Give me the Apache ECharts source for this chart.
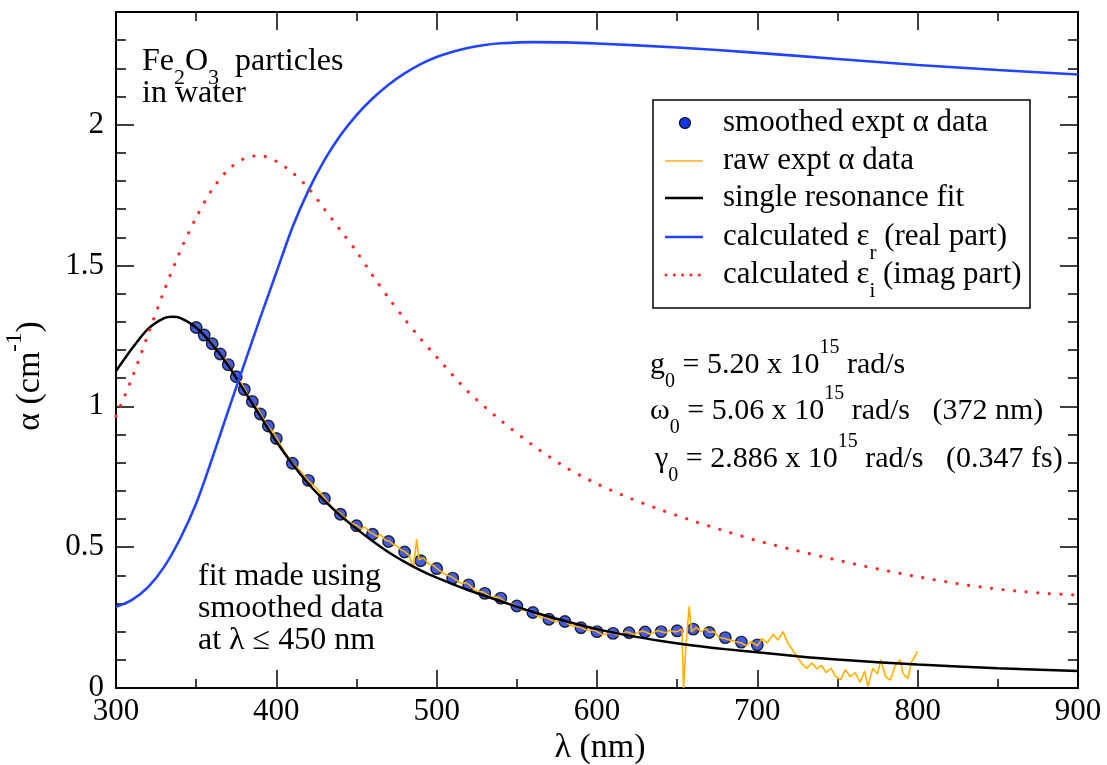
<!DOCTYPE html>
<html>
<head>
<meta charset="utf-8">
<script src="https://cdn.jsdelivr.net/npm/echarts@6/dist/echarts.min.js"></script>
<style>
  html, body { margin: 0; padding: 0; background: #fff; }
  #chart { width: 1107px; height: 765px; }
</style>
</head>
<body>
<div id="chart"></div>
<script>
// smoothed experimental absorption (dots)
const smoothLambda = [350, 355, 360, 365, 370, 375, 380, 385, 390, 395, 400, 410, 420, 430, 440, 450, 460, 470, 480, 490,
  500, 510, 520, 530, 540, 550, 560, 570, 580, 590, 600, 610, 620, 630, 640, 650, 660, 670, 680, 690, 700]
const smoothAlpha = [1.28, 1.253, 1.222, 1.186, 1.148, 1.105, 1.06, 1.017, 0.973, 0.93, 0.886, 0.798, 0.737, 0.673, 0.617, 0.576, 0.546, 0.52, 0.483, 0.452,
  0.424, 0.39, 0.366, 0.336, 0.319, 0.291, 0.268, 0.244, 0.236, 0.214, 0.2, 0.194, 0.196, 0.199, 0.2, 0.203, 0.209, 0.197, 0.179, 0.163, 0.153]

// raw experimental absorption (orange trace)
const rawLambda = [350, 353, 355, 358, 360, 363, 365, 368, 370, 373, 375, 378, 380, 383, 385, 388, 390, 393, 395, 398, 400, 405, 410, 415, 420, 425, 430, 435, 440, 445,
  450, 453, 455, 458, 460, 463, 465, 468, 470, 473, 475, 478, 480, 483, 485.5, 487.5, 489, 492, 495, 498, 500, 503, 505, 508, 510, 513, 515, 518, 520, 523,
  525, 528, 530, 533, 535, 538, 540, 543, 545, 548, 550, 553, 555, 558, 560, 563, 565, 568, 570, 573, 575, 578, 580, 583, 585, 588, 590, 593, 595, 598,
  600, 603, 605, 608, 610, 613, 615, 618, 620, 623, 625, 628, 630, 633, 635, 638, 640, 643, 645, 648, 650, 653, 654, 655.5, 657.5, 659, 662, 665, 668, 670,
  673, 676, 680, 683, 686, 690, 693, 696, 700, 703, 706, 710, 713, 716, 719, 722, 725, 728, 731, 734, 737, 740, 743, 746, 749, 752, 755, 758, 761, 764,
  767, 769, 772, 775, 777, 780, 783, 786, 789, 791, 794, 796, 798, 800]
const rawAlpha = [1.285, 1.262, 1.25, 1.236, 1.225, 1.2, 1.18, 1.168, 1.15, 1.12, 1.1, 1.085, 1.065, 1.03, 1.01, 0.995, 0.975, 0.945, 0.925, 0.91, 0.89, 0.84, 0.8, 0.77, 0.735, 0.71, 0.675, 0.64, 0.62, 0.59,
  0.578, 0.565, 0.572, 0.555, 0.548, 0.538, 0.545, 0.525, 0.522, 0.51, 0.505, 0.49, 0.485, 0.47, 0.425, 0.528, 0.455, 0.462, 0.44, 0.435, 0.425, 0.412, 0.405, 0.398, 0.392, 0.38, 0.372, 0.374, 0.368, 0.352,
  0.345, 0.342, 0.338, 0.325, 0.322, 0.323, 0.318, 0.305, 0.3, 0.297, 0.29, 0.278, 0.275, 0.272, 0.27, 0.255, 0.25, 0.251, 0.245, 0.238, 0.235, 0.242, 0.238, 0.224, 0.22, 0.218, 0.215, 0.207, 0.205, 0.206,
  0.2, 0.19, 0.19, 0.197, 0.195, 0.188, 0.19, 0.2, 0.197, 0.19, 0.195, 0.202, 0.2, 0.192, 0.196, 0.204, 0.2, 0.196, 0.205, 0.2, 0.2, 0.21, 0.0, 0.15, 0.29, 0.2, 0.215, 0.2, 0.21, 0.198,
  0.2, 0.18, 0.175, 0.17, 0.165, 0.16, 0.15, 0.165, 0.15, 0.175, 0.16, 0.19, 0.17, 0.2, 0.16, 0.135, 0.11, 0.085, 0.07, 0.09, 0.068, 0.08, 0.055, 0.07, 0.04, 0.03, 0.065, 0.04, 0.055, 0.02,
  0.06, 0.005, 0.07, 0.05, 0.1, 0.04, 0.028, 0.08, 0.1, 0.05, 0.034, 0.09, 0.11, 0.13]

// single resonance fit
const fitLambda = [300, 310, 320, 330, 335, 340, 350, 360, 370, 380, 390, 400, 410, 420, 430, 440, 450, 460, 470, 480, 490, 500, 520, 540, 560, 580, 600,
  620, 640, 660, 680, 700, 725, 750, 800, 850, 900]
const fitAlpha = [1.125, 1.205, 1.275, 1.313, 1.318, 1.314, 1.28, 1.22, 1.145, 1.055, 0.965, 0.875, 0.795, 0.725, 0.665, 0.612, 0.565, 0.522, 0.482, 0.448, 0.418, 0.392, 0.347, 0.308, 0.27, 0.238, 0.209,
  0.186, 0.167, 0.151, 0.138, 0.127, 0.113, 0.101, 0.083, 0.07, 0.06]

// calculated eps real part
const realLambda = [300, 310, 320, 330, 340, 350, 360, 370, 380, 390, 400, 410, 420, 430, 440, 450, 460, 470, 480, 490, 500, 510, 520, 530, 540, 560, 580, 600,
  650, 700, 750, 800, 850, 900]
const realEps = [0.288, 0.313, 0.358, 0.43, 0.53, 0.655, 0.815, 0.985, 1.15, 1.315, 1.475, 1.635, 1.766, 1.874, 1.962, 2.034, 2.093, 2.142, 2.182, 2.215, 2.24, 2.259, 2.273, 2.283, 2.289, 2.293, 2.292, 2.288,
  2.274, 2.255, 2.233, 2.212, 2.194, 2.178]

// calculated eps imaginary part
const imagLambda = [300, 310, 320, 330, 340, 350, 360, 370, 380, 390, 400, 410, 420, 430, 440, 450, 460, 470, 480, 490, 500, 520, 540, 560, 580, 600,
  620, 640, 660, 680, 700, 720, 740, 760, 780, 800, 820, 840, 860, 880, 900]
const imagEps = [0.965, 1.1, 1.255, 1.41, 1.55, 1.67, 1.77, 1.84, 1.88, 1.89, 1.87, 1.83, 1.775, 1.7, 1.625, 1.55, 1.465, 1.385, 1.31, 1.24, 1.175, 1.05, 0.95, 0.862, 0.785, 0.725,
  0.675, 0.632, 0.593, 0.557, 0.523, 0.494, 0.467, 0.441, 0.417, 0.395, 0.375, 0.358, 0.345, 0.336, 0.33]

const xTicks = [300, 400, 500, 600, 700, 800, 900]

const FONT = '"Liberation Serif", "DejaVu Serif", serif'
const pairs = (xs, ys) => xs.map((x, i) => [x, ys[i]])

const chart = echarts.init(document.getElementById('chart'))

function yAx (pos, interval, len, labels) {
  return {
    type: 'value', position: pos, min: 0, max: 2.4, interval: interval,
    axisLine: { show: interval === 0.5, lineStyle: { color: '#000', width: 2 } },
    axisTick: { inside: true, length: len, lineStyle: { color: '#000', width: 1.5 } },
    axisLabel: {
      show: labels, color: '#000', fontFamily: FONT, fontSize: 31, margin: 12,
      formatter: v => (Math.abs(v * 2 - Math.round(v * 2)) < 1e-6 ? String(v) : '')
    },
    splitLine: { show: false }
  }
}
function xAx (pos, labels) {
  return {
    type: 'value', position: pos, min: xTicks[0], max: xTicks[xTicks.length - 1], interval: 100,
    axisLine: { show: true, onZero: false, lineStyle: { color: '#000', width: 2 } },
    axisTick: { inside: true, length: 18, lineStyle: { color: '#000', width: 1.5 } },
    minorTick: { show: true, splitNumber: 2, length: 9, lineStyle: { color: '#000', width: 1.5 } },
    axisLabel: { show: labels, color: '#000', fontFamily: FONT, fontSize: 31, margin: 8 },
    splitLine: { show: false }
  }
}

// rich text pieces: n = normal, s = subscript, p = superscript
function richSet (size) {
  return {
    n: { fontSize: size, fontFamily: FONT, fill: '#000', lineHeight: 54 },
    s: { fontSize: Math.round(size * 0.68), fontFamily: FONT, fill: '#000', verticalAlign: 'bottom' },
    p: { fontSize: Math.round(size * 0.68), fontFamily: FONT, fill: '#000', verticalAlign: 'top' }
  }
}
function txt (x, y, text, size, extra) {
  return Object.assign({
    type: 'text', x: x, y: y, z: 100,
    style: { text: text, fill: '#000', align: 'left', verticalAlign: 'middle', rich: richSet(size) }
  }, extra || {})
}

const legendRows = [123, 161, 198, 237, 275]
const legendX = 723
const blue = '#2244ff'
const red = '#ff2a2a'
const dotFill = '#1435e0'

const option = {
  animation: false,
  backgroundColor: '#fff',
  grid: { left: 116, top: 12, width: 962, height: 676, containLabel: false, outerBoundsMode: 'none' },
  xAxis: [xAx('bottom', true), xAx('top', false)],
  yAxis: [yAx('left', 0.5, 18, true), yAx('left', 0.1, 10, false), yAx('right', 0.5, 18, false), yAx('right', 0.1, 10, false)],
  series: [
    {
      name: 'smoothed expt α data', type: 'scatter', data: pairs(smoothLambda, smoothAlpha),
      symbol: 'circle', symbolSize: 11.5, z: 2,
      itemStyle: { color: dotFill, borderColor: '#000', borderWidth: 1.4 }
    },
    {
      name: 'raw expt α data', type: 'line', data: pairs(rawLambda, rawAlpha), showSymbol: false, z: 3,
      lineStyle: { color: '#ffb000', width: 1.6 }
    },
    {
      name: 'single resonance fit', type: 'line', data: pairs(fitLambda, fitAlpha), showSymbol: false,
      smooth: 0.3, z: 4,
      lineStyle: { color: '#000', width: 2.5 }
    },
    {
      name: 'calculated εr (real part)', type: 'line', data: pairs(realLambda, realEps), showSymbol: false,
      smooth: 0.3, z: 5,
      lineStyle: { color: blue, width: 2.6 }
    },
    {
      name: 'calculated εi (imag part)', type: 'line', data: pairs(imagLambda, imagEps), showSymbol: false,
      smooth: 0.3, z: 6,
      lineStyle: { color: red, width: 3.2, type: [0.1, 11.5], cap: 'round' }
    }
  ],
  graphic: [
    // axis titles
    txt(600, 748, '{n|λ (nm)}', 34, { style: { text: '{n|λ (nm)}', align: 'center', verticalAlign: 'middle', rich: richSet(34) } }),
    txt(30, 376, '{n|α (cm}{p|-1}{n|)}', 34, {
      rotation: Math.PI / 2,
      style: { text: '{n|α (cm}{p|-1}{n|)}', align: 'center', verticalAlign: 'middle', rich: richSet(34) }
    }),
    // sample label
    txt(142, 62, '{n|Fe}{s|2}{n|O}{s|3}{n|  particles}', 32),
    txt(142, 94, '{n|in water}', 32),
    // fit parameters
    txt(650, 365, '{n|g}{s|0}{n| = 5.20 x 10}{p|15}{n| rad/s}', 30),
    txt(650, 411, '{n|ω}{s|0}{n| = 5.06 x 10}{p|15}{n| rad/s   (372 nm)}', 30),
    txt(655, 459, '{n|γ}{s|0}{n| = 2.886 x 10}{p|15}{n| rad/s   (0.347 fs)}', 30),
    // fit note
    txt(198, 577, '{n|fit made using}', 32),
    txt(198, 609, '{n|smoothed data}', 32),
    txt(198, 641, '{n|at λ ≤ 450 nm}', 32),
    // legend
    { type: 'rect', z: 90, shape: { x: 653, y: 100, width: 377, height: 208 }, style: { fill: '#fff', stroke: '#000', lineWidth: 1.5 } },
    { type: 'circle', z: 95, shape: { cx: 685, cy: legendRows[0], r: 5.5 }, style: { fill: dotFill, stroke: '#000', lineWidth: 1.2 } },
    { type: 'line', z: 95, shape: { x1: 665, y1: legendRows[1], x2: 703, y2: legendRows[1] }, style: { stroke: '#ffc24a', lineWidth: 2 } },
    { type: 'line', z: 95, shape: { x1: 665, y1: legendRows[2], x2: 703, y2: legendRows[2] }, style: { stroke: '#000', lineWidth: 2.5 } },
    { type: 'line', z: 95, shape: { x1: 665, y1: legendRows[3], x2: 703, y2: legendRows[3] }, style: { stroke: blue, lineWidth: 2.6 } },
    { type: 'line', z: 95, shape: { x1: 666, y1: legendRows[4], x2: 704, y2: legendRows[4] }, style: { stroke: red, lineWidth: 3, lineDash: [0.1, 8.2], lineCap: 'round' } },
    txt(legendX, legendRows[0], '{n|smoothed expt α data}', 31),
    txt(legendX, legendRows[1], '{n|raw expt α data}', 31),
    txt(legendX, legendRows[2], '{n|single resonance fit}', 31),
    txt(legendX, legendRows[3], '{n|calculated ε}{s|r}{n| (real part)}', 31),
    txt(legendX, legendRows[4], '{n|calculated ε}{s|i}{n| (imag part)}', 31)
  ]
}

chart.setOption(option)
</script>
</body>
</html>
